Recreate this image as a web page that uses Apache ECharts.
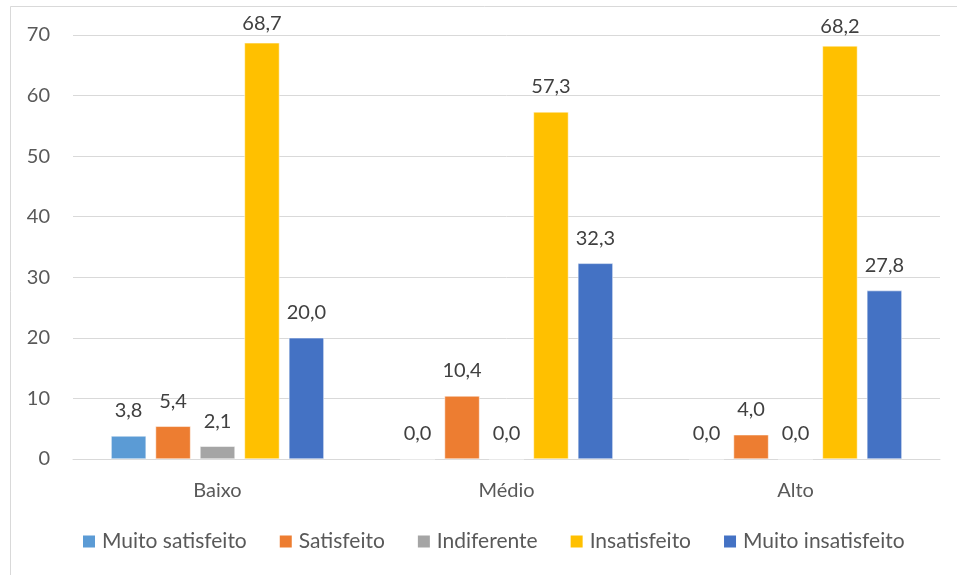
<!DOCTYPE html>
<html>
<head>
<meta charset="utf-8">
<style>
  html, body { margin: 0; padding: 0; background: #ffffff; }
  #chart { width: 957px; height: 575px; }
</style>
<script src="https://cdn.jsdelivr.net/npm/echarts@6/dist/echarts.min.js"></script>
</head>
<body>
<div id="chart"></div>
<script>
// Satisfaction levels by income group (%)
const categories = ['Baixo', 'Médio', 'Alto'];
const seriesNames = ['Muito satisfeito', 'Satisfeito', 'Indiferente', 'Insatisfeito', 'Muito insatisfeito'];
const muitoSatisfeito = [3.8, 0.0, 0.0];
const satisfeito = [5.4, 10.4, 4.0];
const indiferente = [2.1, 0.0, 0.0];
const insatisfeito = [68.7, 57.3, 68.2];
const muitoInsatisfeito = [20.0, 32.3, 27.8];
const yTicks = [0, 10, 20, 30, 40, 50, 60, 70];

const seriesValues = [muitoSatisfeito, satisfeito, indiferente, insatisfeito, muitoInsatisfeito];
const colors = ['#5B9BD5', '#ED7D31', '#A5A5A5', '#FFC000', '#4472C4'];
const FONT = 'Lato, "Open Sans", "Liberation Sans", sans-serif';
const yMax = yTicks[yTicks.length - 1];

const chart = echarts.init(document.getElementById('chart'), null, { renderer: 'canvas' });

// labels near the top of the plot sit closer to their bars so they stay inside the frame
const series = seriesNames.map((name, i) => ({
  name: name,
  type: 'bar',
  data: seriesValues[i].map(v => (v > yMax - 5 ? { value: v, label: { distance: 9 } } : v)),
  barWidth: 35,
  barGap: '27%',
  itemStyle: { color: colors[i], borderColor: '#ffffff', borderWidth: 0.5 },
  label: {
    show: true,
    position: 'top',
    distance: 15,
    color: '#404040',
    fontFamily: FONT,
    fontSize: 20,
    formatter: p => p.value.toFixed(1).replace('.', ',')
  }
}));

chart.setOption({
  animation: false,
  backgroundColor: '#ffffff',
  color: colors,
  graphic: [{
    type: 'polyline',
    shape: { points: [[10.5, 580], [10.5, 6.5], [960, 6.5]] },
    style: { stroke: '#d9d9d9', lineWidth: 1, fill: null },
    silent: true
  }],
  grid: { left: 73, right: 17, top: 35, bottom: 116, containLabel: false },
  legend: {
    bottom: 18,
    left: 76,
    itemWidth: 14,
    itemHeight: 14,
    itemGap: 31,
    icon: 'rect',
    textStyle: { color: '#595959', fontFamily: FONT, fontSize: 21, padding: [0, 0, 0, 1] },
    data: seriesNames
  },
  xAxis: {
    type: 'category',
    data: categories,
    axisLine: { show: true, lineStyle: { color: '#d9d9d9', width: 1 } },
    axisTick: { show: false },
    axisLabel: { color: '#595959', fontFamily: FONT, fontSize: 20, margin: 22 }
  },
  yAxis: {
    type: 'value',
    min: yTicks[0],
    max: yMax,
    interval: 10,
    axisLine: { show: false },
    axisTick: { show: false },
    splitLine: { lineStyle: { color: '#d9d9d9', width: 1 } },
    axisLabel: { color: '#595959', fontFamily: FONT, fontSize: 20, margin: 23 }
  },
  series: series
});
</script>
</body>
</html>
